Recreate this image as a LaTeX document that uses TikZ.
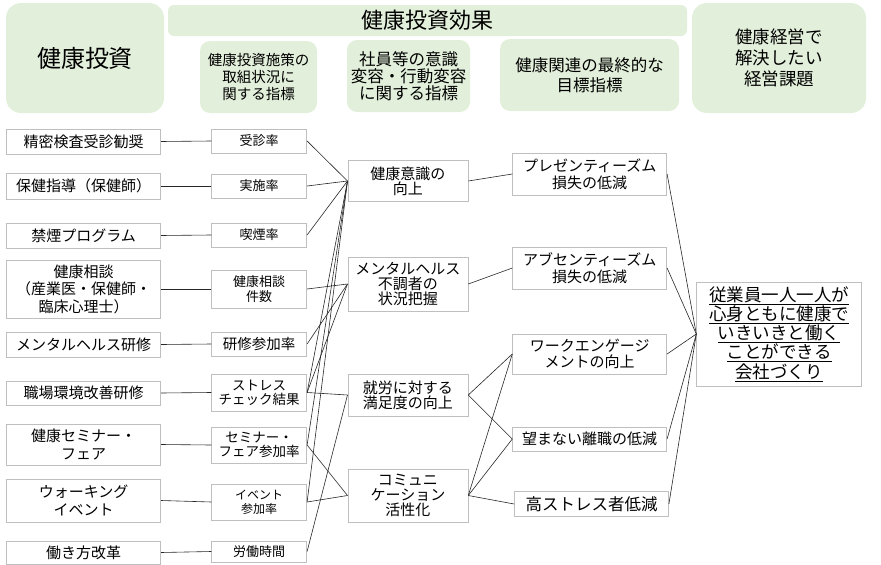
\documentclass[tikz,border=0pt]{standalone}
\usepackage{fontspec}
\setmainfont{Noto Sans CJK JP}
\usepackage{xcolor}
\definecolor{hdrgreen}{HTML}{E2EFDA}
\definecolor{boxgray}{HTML}{BFBFBF}

\newcommand{\fs}[2]{\fontsize{#1}{#2}\selectfont}

\begin{document}
\begin{tikzpicture}[x=1pt,y=-1pt,
    hdr/.style={fill=hdrgreen, draw=none, rounded corners=10pt, align=center, inner sep=0pt},
    item/.style={draw=boxgray, line width=0.8pt, fill=white, align=center, inner sep=0pt},
    leftbox/.style={item, minimum width=154pt, font=\fs{15}{17.5}},
    kpibox/.style={item, minimum width=95pt, font=\fs{13}{14.5}},
    effbox/.style={item, minimum width=120pt, font=\fs{15}{15}},
    goalbox/.style={item, minimum width=154pt, font=\fs{15}{16.5}},
    link/.style={draw=black!85, line width=0.6pt}]
  \useasboundingbox (0,0) rectangle (881,565);

  % Header boxes
  \node[hdr, rounded corners=15pt, minimum width=158pt, minimum height=110pt, font=\fs{24}{28}] (invest) at (85,58) {健康投資};
  \node[hdr, rounded corners=6pt, minimum width=519pt, minimum height=31pt, font=\fs{22}{24}] (effect) at (427.5,20.5) {健康投資効果};
  \node[hdr, minimum width=117pt, minimum height=72pt, font=\fs{14.5}{16.7}] (sub1) at (258.5,77) {健康投資施策の\\取組状況に\\関する指標};
  \node[hdr, minimum width=123pt, minimum height=72pt, font=\fs{16.5}{16.8}] (sub2) at (408.5,76) {社員等の意識\\変容・行動変容\\に関する指標};
  \node[hdr, minimum width=179pt, minimum height=72pt, font=\fs{16.5}{20}] (sub3) at (589.5,75) {健康関連の最終的な\\目標指標};
  \node[hdr, rounded corners=15pt, minimum width=174pt, minimum height=110pt, font=\fs{17.5}{21}] (issue) at (779,58) {健康経営で\\解決したい\\経営課題};

  % Left column: measures
  \node[leftbox, minimum height=25pt] (seimitsu) at (83.7,141.5) {精密検査受診勧奨};
  \node[leftbox, minimum height=26pt] (hokenshido) at (83.7,186) {保健指導（保健師）};
  \node[leftbox, minimum height=25pt] (kinen) at (83.7,235.5) {禁煙プログラム};
  \node[leftbox, minimum height=58pt] (soudan) at (83.7,289) {健康相談\\（産業医・保健師・\\臨床心理士）};
  \node[leftbox, minimum height=25pt] (mhkenshu) at (83.7,344.5) {メンタルヘルス研修};
  \node[leftbox, minimum height=24pt] (shokuba) at (83.7,393) {職場環境改善研修};
  \node[leftbox, minimum height=41pt] (seminar) at (83.7,444.5) {健康セミナー・\\フェア};
  \node[leftbox, minimum height=43pt] (walking) at (83.7,500.5) {ウォーキング\\イベント};
  \node[leftbox, minimum height=23pt] (hatarakikata) at (83.7,552.5) {働き方改革};

  % Second column: indicators
  \node[kpibox, minimum height=24pt] (jushin) at (259.2,141) {受診率};
  \node[kpibox, minimum height=24pt] (jisshi) at (259.2,186) {実施率};
  \node[kpibox, minimum height=24pt] (kitsuen) at (259.2,235) {喫煙率};
  \node[kpibox, minimum height=38pt] (soudanken) at (259.2,289) {健康相談\\件数};
  \node[kpibox, minimum height=24pt, font=\fs{14.5}{16}] (kenshusanka) at (259.2,344) {研修参加率};
  \node[kpibox, minimum height=37pt, font=\fs{13.5}{14}] (stress) at (259.2,392.5) {ストレス\\チェック結果};
  \node[kpibox, minimum height=36pt, font=\fs{13.5}{14}] (seminarsanka) at (259.2,445) {セミナー・\\フェア参加率};
  \node[kpibox, minimum height=36pt, font=\fs{12}{14}] (eventsanka) at (259.2,502) {イベント\\参加率};
  \node[kpibox, minimum height=21pt] (roudou) at (259.2,551.5) {労働時間};

  % Third column: awareness and behaviour
  \node[effbox, minimum height=41pt] (ishiki) at (407.9,181) {健康意識の\\向上};
  \node[effbox, minimum height=54pt] (mental) at (407.9,284) {メンタルヘルス\\不調者の\\状況把握};
  \node[effbox, minimum height=42pt] (manzoku) at (407.9,395) {就労に対する\\満足度の向上};
  \node[effbox, minimum height=53pt] (comm) at (407.9,495.5) {コミュニ\\ケーション\\活性化};

  % Fourth column: final goals
  \node[goalbox, minimum height=42pt] (presen) at (589.7,174) {プレゼンティーズム\\損失の低減};
  \node[goalbox, minimum height=42pt] (absen) at (589.7,268) {アブセンティーズム\\損失の低減};
  \node[goalbox, minimum height=40pt] (engage) at (589.7,354) {ワークエンゲージ\\メントの向上};
  \node[goalbox, minimum height=24pt] (rishoku) at (589.7,439) {望まない離職の低減};
  \node[goalbox, minimum height=25pt, font=\fs{16.5}{18}] (kostress) at (591.5,504) {高ストレス者低減};

  % Management issue
  \node[item, minimum width=165pt, minimum height=104pt, font=\fs{17.5}{19.3}] (company) at (779.2,334)
    {\underline{従業員一人一人が}\\\underline{心身ともに健康で}\\\underline{いきいきと働く}\\\underline{ことができる}\\\underline{会社づくり}};

  % Measures to indicators
  \draw[link] (seimitsu.east) -- (jushin.west);
  \draw[link] (hokenshido.east) -- (jisshi.west);
  \draw[link] (kinen.east) -- (kitsuen.west);
  \draw[link] (soudan.east) -- (soudanken.west);
  \draw[link] (mhkenshu.east) -- (kenshusanka.west);
  \draw[link] (shokuba.east) -- (stress.west);
  \draw[link] (seminar.east) -- (seminarsanka.west);
  \draw[link] (walking.east) -- (eventsanka.west);
  \draw[link] (hatarakikata.east) -- (roudou.west);

  % Indicators to awareness
  \draw[link] (jushin.east) -- (ishiki.west);
  \draw[link] (jisshi.east) -- (ishiki.west);
  \draw[link] (kitsuen.east) -- (ishiki.west);
  \draw[link] (stress.east) -- (ishiki.west);
  \draw[link] (seminarsanka.east) -- (ishiki.west);
  \draw[link] (eventsanka.east) -- (ishiki.west);
  \draw[link] (soudanken.east) -- (mental.west);
  \draw[link] (kenshusanka.east) -- (mental.west);
  \draw[link] (stress.east) -- (mental.west);
  \draw[link] (stress.east) -- (manzoku.west);
  \draw[link] (roudou.east) -- (manzoku.west);
  \draw[link] (seminarsanka.east) -- (comm.west);
  \draw[link] (eventsanka.east) -- (comm.west);

  % Awareness to goals
  \draw[link] (ishiki.east) -- (presen.west);
  \draw[link] (mental.east) -- (absen.west);
  \draw[link] (manzoku.east) -- (engage.west);
  \draw[link] (manzoku.east) -- (rishoku.west);
  \draw[link] (comm.east) -- (engage.west);
  \draw[link] (comm.east) -- (rishoku.west);
  \draw[link] (comm.east) -- (kostress.west);

  % Goals to issue
  \draw[link] (presen.east) -- (company.west);
  \draw[link] (absen.east) -- (company.west);
  \draw[link] (engage.east) -- (company.west);
  \draw[link] (rishoku.east) -- (company.west);
  \draw[link] (kostress.east) -- (company.west);
\end{tikzpicture}
\end{document}
